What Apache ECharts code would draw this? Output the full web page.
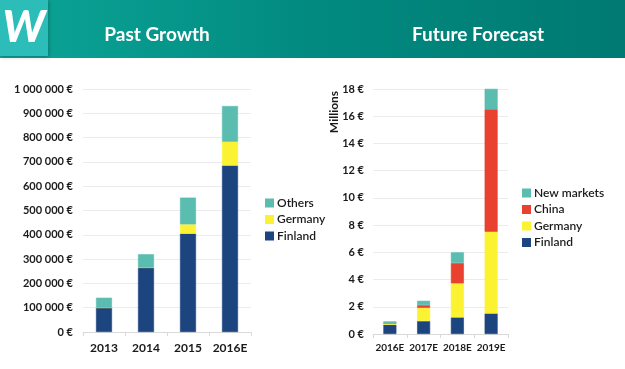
<!DOCTYPE html>
<html><head><meta charset="utf-8">
<script src="https://cdn.jsdelivr.net/npm/echarts@6/dist/echarts.min.js"></script>
<style>html,body{margin:0;padding:0;background:#fff}#c{width:625px;height:369px}</style>
</head><body><div id="c"></div>
<script>
// Past growth (EUR)
const pastCategories = ['2013', '2014', '2015', '2016E'];
const pastFinland = [100000, 265000, 405000, 685000];
const pastGermany = [0, 0, 38000, 98000];
const pastOthers = [41000, 55000, 110000, 147000];
const pastTicks = [0, 100000, 200000, 300000, 400000, 500000, 600000, 700000, 800000, 900000, 1000000];

// Future forecast (millions EUR)
const futCategories = ['2016E', '2017E', '2018E', '2019E'];
const futFinland = [0.68, 0.95, 1.22, 1.51];
const futGermany = [0.12, 0.97, 2.5, 6.0];
const futChina = [0, 0.2, 1.5, 9.0];
const futNew = [0.13, 0.32, 0.78, 1.5];
const futTicks = [0, 2, 4, 6, 8, 10, 12, 14, 16, 18];

const C_FIN = '#1c4580', C_GER = '#fbf231', C_OTH = '#5bbcb0', C_CHN = '#e8412f';
const FONT = 'Lato';
const chart = echarts.init(document.getElementById('c'), null, {renderer: 'canvas'});
function fmtEur(v) { return String(v).replace(/\B(?=(\d{3})+(?!\d))/g, ' ') + ' €'; }
const axisLbl = {color: '#1a1a1a', fontFamily: FONT, fontSize: 11, fontWeight: 'bold'};
function bar(name, data, color, x, y, w) {
  return {name, type: 'bar', stack: 's' + x, data, xAxisIndex: x, yAxisIndex: y, barWidth: w,
    itemStyle: {color, borderColor: color, borderWidth: 0.6}, emphasis: {disabled: true}};
}
const legText = {fontFamily: FONT, fontSize: 12, fontWeight: 600, color: '#1a1a1a', padding: [0, 0, 0, -1]};
chart.setOption({
  animation: false,
  graphic: [
    {type: 'rect', shape: {x: 0, y: 0, width: 625, height: 58}, z: 0,
      style: {fill: new echarts.graphic.LinearGradient(0, 0, 1, 0, [{offset: 0, color: '#0ba597'}, {offset: 0.5, color: '#028a80'}, {offset: 1, color: '#007a72'}])}},
    {type: 'rect', shape: {x: 0, y: 0, width: 48, height: 56}, z: 1,
      style: {fill: '#2dbdb9', shadowColor: 'rgba(0,0,0,0.25)', shadowBlur: 4, shadowOffsetX: 1, shadowOffsetY: 1}},
    {type: 'text', x: 24, y: 28, z: 2, style: {text: 'W', fill: '#fff', font: 'italic 900 44px Lato', align: 'center', verticalAlign: 'middle'}},
    {type: 'text', x: 157, y: 35, z: 2, style: {text: 'Past Growth', fill: '#fff', font: 'bold 19px Lato', align: 'center', verticalAlign: 'middle'}},
    {type: 'text', x: 478, y: 35, z: 2, style: {text: 'Future Forecast', fill: '#fff', font: 'bold 19px Lato', align: 'center', verticalAlign: 'middle'}},
    {type: 'text', x: 334, y: 112, rotation: Math.PI / 2, z: 2, style: {text: 'Millions', fill: '#1a1a1a', font: 'bold 12px Lato', align: 'center', verticalAlign: 'middle'}}
  ],
  grid: [
    {left: 83, width: 168, top: 89, height: 243},
    {left: 373, width: 135, top: 89, height: 245}
  ],
  xAxis: [
    {gridIndex: 0, type: 'category', data: pastCategories, axisLine: {lineStyle: {color: '#d9d9d9'}},
      axisTick: {show: true, length: 4, lineStyle: {color: '#d9d9d9'}}, axisLabel: Object.assign({}, axisLbl, {fontSize: 12, margin: 10, interval: 0})},
    {gridIndex: 1, type: 'category', data: futCategories, axisLine: {lineStyle: {color: '#d9d9d9'}},
      axisTick: {show: true, length: 4, lineStyle: {color: '#d9d9d9'}}, axisLabel: Object.assign({}, axisLbl, {fontSize: 10, margin: 9, interval: 0, hideOverlap: false})}
  ],
  yAxis: [
    {gridIndex: 0, type: 'value', min: pastTicks[0], max: pastTicks[pastTicks.length - 1], interval: pastTicks[1] - pastTicks[0],
      axisLine: {show: false}, axisTick: {show: false}, splitLine: {lineStyle: {color: '#ececec'}},
      axisLabel: Object.assign({}, axisLbl, {margin: 10, formatter: fmtEur})},
    {gridIndex: 1, type: 'value', min: futTicks[0], max: futTicks[futTicks.length - 1], interval: futTicks[1] - futTicks[0],
      axisLine: {show: false}, axisTick: {show: false}, splitLine: {lineStyle: {color: '#ececec'}},
      axisLabel: Object.assign({}, axisLbl, {margin: 9, formatter: v => v + ' €'})}
  ],
  legend: [
    {orient: 'vertical', left: 260, top: 192, itemWidth: 7, itemHeight: 7, itemGap: 4.5, icon: 'rect',
      data: ['Others', 'Germany', 'Finland'], textStyle: legText, selectedMode: false},
    {orient: 'vertical', left: 517, top: 182, itemWidth: 7, itemHeight: 7, itemGap: 4.5, icon: 'rect',
      data: ['New markets', 'China', 'Germany ', 'Finland '], textStyle: legText, selectedMode: false}
  ],
  series: [
    bar('Finland', pastFinland, C_FIN, 0, 0, 16),
    bar('Germany', pastGermany, C_GER, 0, 0, 16),
    bar('Others', pastOthers, C_OTH, 0, 0, 16),
    bar('Finland ', futFinland, C_FIN, 1, 1, 13),
    bar('Germany ', futGermany, C_GER, 1, 1, 13),
    bar('China', futChina, C_CHN, 1, 1, 13),
    bar('New markets', futNew, C_OTH, 1, 1, 13)
  ]
});
</script></body></html>
